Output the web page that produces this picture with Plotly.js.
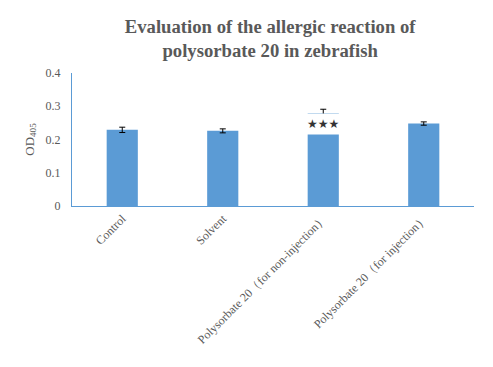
<!DOCTYPE html>
<html><head><meta charset="utf-8">
<script src="https://cdn.plot.ly/plotly-3.0.1.min.js"></script>
<style>body{margin:0;padding:0;background:#fff}#chart{width:493px;height:367px}</style>
</head><body><div id="chart"></div>
<script>
const categories = ["Control", "Solvent", "Polysorbate 20（for non-injection）", "Polysorbate 20（for injection）"];
const values = [0.229, 0.226, 0.279, 0.248];
const errors = [0.008, 0.006, 0.012, 0.005];
const yTicks = [0, 0.1, 0.2, 0.3, 0.4];
const sigLabel = "★★★";
const sigIndex = 2;
const sigY = 0.246;

const serif = "Liberation Serif, Times New Roman, serif";
const trace = {
  type: "bar", x: categories, y: values,
  marker: {color: "#5B9BD5"},
  width: 0.31,
  error_y: {type: "data", array: errors, visible: true, color: "#000", thickness: 1, width: 3},
  hoverinfo: "none"
};
const layout = {
  width: 493, height: 367,
  margin: {l: 72, r: 19, t: 73, b: 161},
  paper_bgcolor: "#fff", plot_bgcolor: "#fff",
  showlegend: false,
  title: {text: "<b>Evaluation of the allergic reaction of<br>polysorbate 20 in zebrafish</b>",
    font: {family: serif, size: 18.7, color: "#595959"}, x: 0.548, xanchor: "center", y: 0.91, yanchor: "top"},
  xaxis: {tickangle: -45, tickfont: {family: serif, size: 12, color: "#595959"},
    showline: true, linecolor: "#5B9BD5", linewidth: 1, ticks: "", showgrid: false, zeroline: false},
  yaxis: {range: [0, 0.4], tickvals: yTicks, ticktext: yTicks.map(String),
    tickfont: {family: serif, size: 12, color: "#595959"}, ticklabelstandoff: 8,
    showline: true, linecolor: "#5B9BD5", linewidth: 1, ticks: "", showgrid: false, zeroline: false,
    title: {text: "OD<sub>405</sub>", font: {family: serif, size: 13, color: "#595959"}, standoff: 8}},
  annotations: [{x: categories[sigIndex], y: sigY, xref: "x", yref: "y", text: sigLabel, showarrow: false,
    bgcolor: "#fff", font: {family: "DejaVu Sans", size: 12, color: "#333"}, borderpad: 3}]
};
Plotly.newPlot("chart", [trace], layout, {displayModeBar: false, staticPlot: true});
</script></body></html>
